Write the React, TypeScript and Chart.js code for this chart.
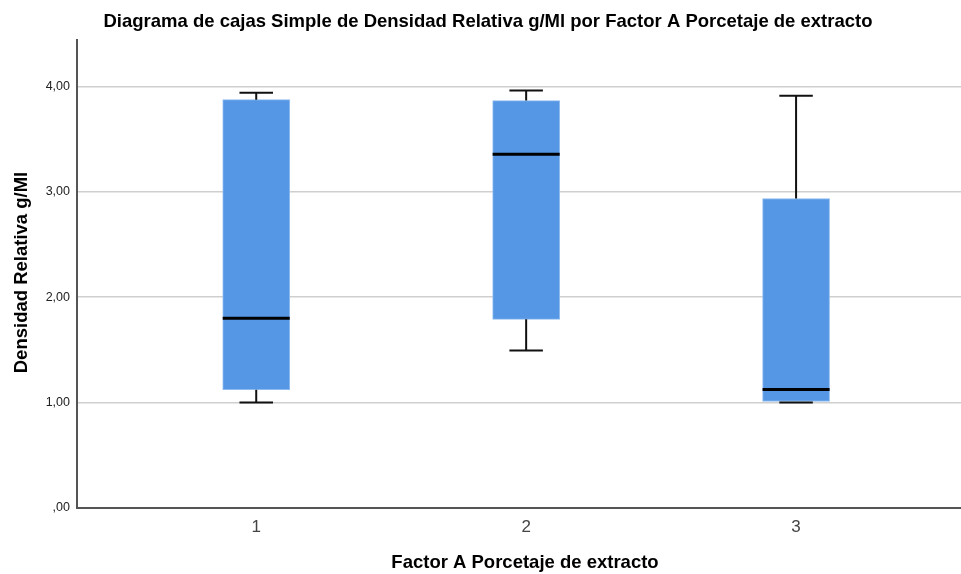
import React, { useEffect, useRef } from "react";
import { Chart, registerables } from "chart.js";
Chart.register(...registerables);

const categories = [1, 2, 3];
const categoryLabels = ["1", "2", "3"];
const whiskerLow = [1.0, 1.495, 1.0];
const q1 = [1.122, 1.79, 1.01];
const median = [1.8, 3.355, 1.125];
const q3 = [3.874, 3.865, 2.936];
const whiskerHigh = [3.94, 3.96, 3.91];
const yTicks = [0, 1, 2, 3, 4];

const chartTitle = "Diagrama de cajas Simple de Densidad Relativa g/Ml por Factor A Porcetaje de extracto";
const xTitle = "Factor A Porcetaje de extracto";
const yTitle = "Densidad Relativa g/Ml";

const FONT = "'Liberation Sans', Arial, sans-serif";

const boxPlugin = {
  id: "boxExtras",
  afterDatasetsDraw(chart: any) {
    const ctx = chart.ctx;
    const xs = chart.scales.x;
    const ys = chart.scales.y;
    const meta = chart.getDatasetMeta(0);
    ctx.save();
    categories.forEach((c, i) => {
      const x = xs.getPixelForValue(c);
      const el = meta.data[i];
      const half = (el && el.width ? el.width : 67) / 2;
      const cap = half / 2;
      ctx.strokeStyle = "#111";
      ctx.lineWidth = 2;
      ctx.beginPath();
      ctx.moveTo(x, ys.getPixelForValue(q3[i]));
      ctx.lineTo(x, ys.getPixelForValue(whiskerHigh[i]));
      ctx.moveTo(x - cap, ys.getPixelForValue(whiskerHigh[i]));
      ctx.lineTo(x + cap, ys.getPixelForValue(whiskerHigh[i]));
      ctx.moveTo(x, ys.getPixelForValue(q1[i]));
      ctx.lineTo(x, ys.getPixelForValue(whiskerLow[i]));
      ctx.moveTo(x - cap, ys.getPixelForValue(whiskerLow[i]));
      ctx.lineTo(x + cap, ys.getPixelForValue(whiskerLow[i]));
      ctx.stroke();
      ctx.lineWidth = 3;
      ctx.strokeStyle = "#000";
      ctx.beginPath();
      ctx.moveTo(x - half, ys.getPixelForValue(median[i]));
      ctx.lineTo(x + half, ys.getPixelForValue(median[i]));
      ctx.stroke();
    });
    ctx.restore();
  },
  afterDraw(chart: any) {
    const ctx = chart.ctx;
    ctx.save();
    ctx.fillStyle = "#000";
    ctx.textAlign = "center";
    ctx.textBaseline = "middle";
    ctx.font = `bold 18.5px ${FONT}`;
    ctx.fillText(chartTitle, 488, 22);
    ctx.fillText(xTitle, 525, 563);
    ctx.translate(22, 272.5);
    ctx.rotate(-Math.PI / 2);
    ctx.fillText(yTitle, 0, 0);
    ctx.restore();
  },
};

export default function App() {
  const ref = useRef<HTMLCanvasElement>(null);
  useEffect(() => {
    if (!ref.current) return;
    const chart = new Chart(ref.current, {
      type: "bar",
      data: {
        datasets: [
          {
            data: categories.map((c, i) => ({ x: c, y: [q1[i], q3[i]] })) as any,
            backgroundColor: "#5597e5",
            borderColor: "#8dbbf0",
            borderWidth: 1,
            borderSkipped: false,
            barThickness: 67,
          },
        ],
      },
      options: {
        responsive: false,
        animation: false,
        devicePixelRatio: 1,
        layout: { padding: { top: 40, left: 0, right: 0, bottom: 0 } },
        plugins: { legend: { display: false }, tooltip: { enabled: false }, title: { display: false } },
        scales: {
          x: {
            type: "linear",
            offset: false,
            min: 0.336,
            max: 3.611,
            afterBuildTicks: (axis: any) => {
              axis.ticks = categories.map((v) => ({ value: v }));
            },
            afterFit: (axis: any) => {
              axis.height = 66;
            },
            grid: { display: false, drawTicks: false, offset: false },
            border: { color: "#555", width: 2 },
            ticks: {
              padding: 9,
              color: "#444",
              font: { family: FONT, size: 17 },
              callback: (v: any) => categoryLabels[categories.indexOf(Number(v))] ?? "",
            },
          },
          y: {
            min: 0,
            max: 4.44,
            afterBuildTicks: (axis: any) => {
              axis.ticks = yTicks.map((v) => ({ value: v }));
            },
            afterFit: (axis: any) => {
              axis.width = 77;
            },
            grid: { color: "#cfcfcf", lineWidth: 1.5, drawTicks: false },
            border: { color: "#555", width: 2 },
            ticks: {
              padding: 7,
              color: "#222",
              font: { family: FONT, size: 12.5 },
              callback: (v: any) => (Number(v) === 0 ? ",00" : Number(v).toFixed(2).replace(".", ",")),
            },
          },
        },
      },
      plugins: [boxPlugin],
    });
    return () => chart.destroy();
  }, []);
  return (
    <div style={{ position: "absolute", left: 0, top: 0, width: 961, height: 574, background: "#fff" }}>
      <canvas ref={ref} width={961} height={574} />
    </div>
  );
}
